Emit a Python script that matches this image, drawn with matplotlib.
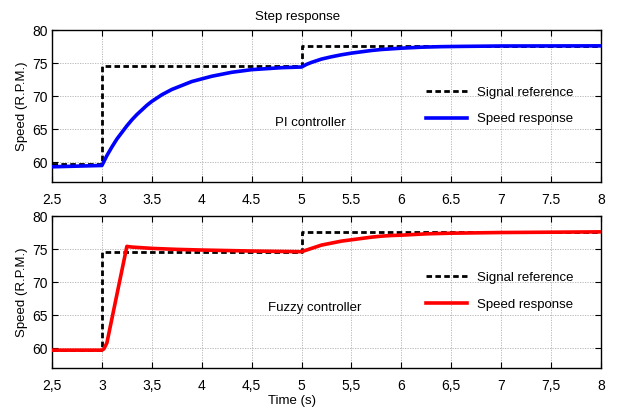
import matplotlib
matplotlib.use("Agg")
import matplotlib.pyplot as plt

plt.rcParams['font.family'] = ['Liberation Sans', 'DejaVu Sans']

# ---- data ----
t_ref = [2.5, 3.0, 3.0, 5.0, 5.0, 8.0]
ref = [59.7, 59.7, 74.6, 74.6, 77.6, 77.6]

t_pi = [2.5, 3.0, 3.05, 3.1, 3.15, 3.2, 3.25, 3.3, 3.35, 3.4, 3.45, 3.5, 3.6, 3.7, 3.8, 3.9,
        4.0, 4.1, 4.2, 4.3, 4.4, 4.5, 4.6, 4.7, 4.8, 4.9, 5.0,
        5.05, 5.1, 5.2, 5.3, 5.4, 5.5, 5.6, 5.7, 5.8, 5.9, 6.0, 6.2, 6.4, 6.6, 7.0, 8.0]
pi_speed = [59.3, 59.5, 61.0, 62.3, 63.5, 64.5, 65.5, 66.4, 67.2, 67.9, 68.6, 69.2, 70.2, 71.0, 71.6, 72.2,
            72.6, 73.0, 73.3, 73.6, 73.8, 74.0, 74.1, 74.2, 74.3, 74.35, 74.4,
            74.8, 75.1, 75.6, 75.95, 76.25, 76.5, 76.7, 76.9, 77.05, 77.15, 77.25, 77.4, 77.48, 77.52, 77.58, 77.6]

t_fz = [2.5, 3.0, 3.02, 3.05, 3.25, 3.3, 3.5, 3.75, 4.0, 4.5, 5.0,
        5.1, 5.2, 5.3, 5.4, 5.5, 5.6, 5.7, 5.8, 5.9, 6.0, 6.25, 6.5, 7.0, 8.0]
fz_speed = [59.7, 59.7, 59.9, 60.8, 75.4, 75.3, 75.1, 74.95, 74.85, 74.7, 74.6,
            75.1, 75.6, 75.9, 76.2, 76.4, 76.6, 76.8, 76.95, 77.05, 77.1, 77.3, 77.4, 77.5, 77.6]

xticks = [2.5, 3, 3.5, 4, 4.5, 5, 5.5, 6, 6.5, 7, 7.5, 8]
xlabels_top = ['2.5', '3', '3.5', '4', '4.5', '5', '5.5', '6', '6.5', '7', '7.5', '8']
xlabels_bot = ['2,5', '3', '3,5', '4', '4,5', '5', '5,5', '6', '6,5', '7', '7,5', '8']
yticks = [60, 65, 70, 75, 80]

W, H = 621, 409
fig = plt.figure(figsize=(W / 100, H / 100), dpi=100)


def make_ax(top_px, bot_px):
    left, right = 52, 601
    return fig.add_axes([left / W, 1 - bot_px / H, (right - left) / W, (bot_px - top_px) / H])


ax1 = make_ax(30, 182)
ax2 = make_ax(216, 368)

for ax, t, v, col, xl, lab, leg_y, txt_x, txt_y in [
        (ax1, t_pi, pi_speed, '#0000ff', xlabels_top, 'PI controller', 0.50, 0.47, 0.39),
        (ax2, t_fz, fz_speed, '#ff0000', xlabels_bot, 'Fuzzy controller', 0.505, 0.479, 0.395)]:
    ax.plot(t_ref, ref, color='black', lw=2.0, linestyle=(0, (2, 1.2)), label='Signal reference', zorder=3)
    ax.plot(t, v, color=col, lw=2.6, label='Speed response', zorder=4, solid_joinstyle='round')
    ax.set_xlim(2.5, 8)
    ax.set_ylim(57, 80)
    ax.set_xticks(xticks)
    ax.set_xticklabels(xl)
    ax.set_yticks(yticks)
    ax.grid(True, color='#b0b0b0', linestyle=(0, (1.5, 1.5)), lw=0.6)
    ax.tick_params(direction='in', top=True, right=True, length=4, width=0.8, labelsize=10)
    ax.tick_params(axis='x', pad=8)
    ax.tick_params(axis='y', pad=3)
    for s in ax.spines.values():
        s.set_linewidth(1.0)
    ax.set_ylabel('Speed (R.P.M.)', fontsize=9.5, labelpad=3)
    ax.legend(loc='center left', bbox_to_anchor=(0.681, leg_y), frameon=False, fontsize=9.5,
              handlelength=3.1, handletextpad=0.75, labelspacing=1.1, borderpad=0, borderaxespad=0)
    ax.text(txt_x, txt_y, lab, transform=ax.transAxes, ha='center', va='center', fontsize=9.5)

ax1.set_title('Step response', fontsize=9.5, x=0.447, pad=7)
ax2.set_xlabel('Time (s)', fontsize=9.5)
ax2.xaxis.set_label_coords(0.437, -0.175)

fig.savefig('out.png', dpi=100)
